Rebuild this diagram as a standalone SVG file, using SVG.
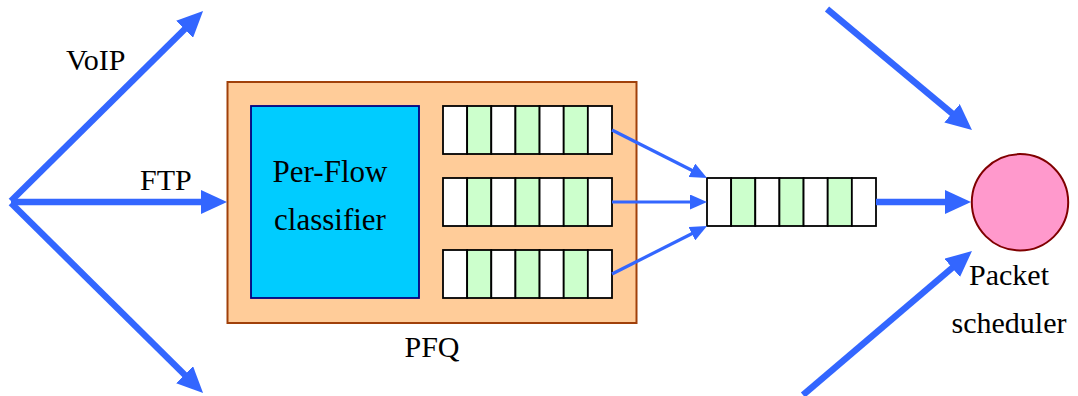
<svg xmlns="http://www.w3.org/2000/svg" width="1078" height="396" viewBox="0 0 1078 396">
  <defs>
    <marker id="bigHead" markerUnits="userSpaceOnUse" markerWidth="26" markerHeight="24" viewBox="0 0 26 24" refX="10" refY="12" orient="auto">
      <path d="M0,0 L26,12 L0,24 Z" fill="#3366FF"/>
    </marker>
    <marker id="smallHead" markerUnits="userSpaceOnUse" markerWidth="17" markerHeight="15" viewBox="0 0 17 15" refX="6" refY="7.5" orient="auto">
      <path d="M0,0 L17,7.5 L0,15 Z" fill="#3366FF"/>
    </marker>
  </defs>
  <rect width="1078" height="396" fill="#FFFFFF"/>

  <g id="pfq">
    <rect x="227.5" y="82" width="409" height="241" fill="#FFCC99" stroke="#A0400A" stroke-width="2"/>
    <text x="432" y="357" text-anchor="middle" font-family="Times New Roman" style="font-family:'Liberation Serif','Times New Roman',serif" font-size="30">PFQ</text>
  </g>

  <g id="classifier">
    <rect x="251" y="106" width="168" height="192" fill="#00CCFF" stroke="#000080" stroke-width="1.8"/>
    <text x="330" y="182" text-anchor="middle" font-family="Times New Roman" style="font-family:'Liberation Serif','Times New Roman',serif" font-size="31">Per-Flow</text>
    <text x="330" y="230" text-anchor="middle" font-family="Times New Roman" style="font-family:'Liberation Serif','Times New Roman',serif" font-size="31">classifier</text>
  </g>

  <g id="queue1" fill="#FFFFFF" stroke="#000000" stroke-width="1.8">
    <rect x="443" y="106" width="24.14" height="48"/>
    <rect x="467.14" y="106" width="24.14" height="48" fill="#CCFFCC"/>
    <rect x="491.29" y="106" width="24.14" height="48"/>
    <rect x="515.43" y="106" width="24.14" height="48" fill="#CCFFCC"/>
    <rect x="539.57" y="106" width="24.14" height="48"/>
    <rect x="563.71" y="106" width="24.14" height="48" fill="#CCFFCC"/>
    <rect x="587.86" y="106" width="24.14" height="48"/>
  </g>
  <g id="queue2" fill="#FFFFFF" stroke="#000000" stroke-width="1.8">
    <rect x="443" y="178" width="24.14" height="48"/>
    <rect x="467.14" y="178" width="24.14" height="48" fill="#CCFFCC"/>
    <rect x="491.29" y="178" width="24.14" height="48"/>
    <rect x="515.43" y="178" width="24.14" height="48" fill="#CCFFCC"/>
    <rect x="539.57" y="178" width="24.14" height="48"/>
    <rect x="563.71" y="178" width="24.14" height="48" fill="#CCFFCC"/>
    <rect x="587.86" y="178" width="24.14" height="48"/>
  </g>
  <g id="queue3" fill="#FFFFFF" stroke="#000000" stroke-width="1.8">
    <rect x="443" y="250" width="24.14" height="48"/>
    <rect x="467.14" y="250" width="24.14" height="48" fill="#CCFFCC"/>
    <rect x="491.29" y="250" width="24.14" height="48"/>
    <rect x="515.43" y="250" width="24.14" height="48" fill="#CCFFCC"/>
    <rect x="539.57" y="250" width="24.14" height="48"/>
    <rect x="563.71" y="250" width="24.14" height="48" fill="#CCFFCC"/>
    <rect x="587.86" y="250" width="24.14" height="48"/>
  </g>

  <g id="outQueue" fill="#FFFFFF" stroke="#000000" stroke-width="1.8">
    <rect x="707" y="178" width="24.14" height="48"/>
    <rect x="731.14" y="178" width="24.14" height="48" fill="#CCFFCC"/>
    <rect x="755.29" y="178" width="24.14" height="48"/>
    <rect x="779.43" y="178" width="24.14" height="48" fill="#CCFFCC"/>
    <rect x="803.57" y="178" width="24.14" height="48"/>
    <rect x="827.71" y="178" width="24.14" height="48" fill="#CCFFCC"/>
    <rect x="851.86" y="178" width="24.14" height="48"/>
  </g>

  <g id="scheduler">
    <circle cx="1020" cy="202.3" r="48.2" fill="#FF99CC" stroke="#800000" stroke-width="2"/>
    <text x="1009" y="285" text-anchor="middle" font-family="Times New Roman" style="font-family:'Liberation Serif','Times New Roman',serif" font-size="30">Packet</text>
    <text x="1009" y="333" text-anchor="middle" font-family="Times New Roman" style="font-family:'Liberation Serif','Times New Roman',serif" font-size="30">scheduler</text>
  </g>

  <g id="labels">
    <text x="66" y="70" font-family="Times New Roman" style="font-family:'Liberation Serif','Times New Roman',serif" font-size="30">VoIP</text>
    <text x="140" y="190" font-family="Times New Roman" style="font-family:'Liberation Serif','Times New Roman',serif" font-size="30">FTP</text>
  </g>

  <g id="connectors" stroke="#3366FF" fill="none">
    <g stroke-width="6.5" marker-end="url(#bigHead)">
      <line x1="11" y1="201" x2="191.7" y2="22.3"/>
      <line x1="11" y1="202" x2="211" y2="202"/>
      <line x1="11" y1="203" x2="191.7" y2="381.7"/>
      <line x1="876" y1="202" x2="955" y2="202"/>
      <line x1="827" y1="9" x2="959.7" y2="119.7"/>
      <line x1="803" y1="395" x2="959.8" y2="261.4"/>
    </g>
    <g stroke-width="3.2" marker-end="url(#smallHead)">
      <line x1="612" y1="130" x2="697.2" y2="173"/>
      <line x1="612" y1="202" x2="696" y2="202"/>
      <line x1="612" y1="274" x2="697.2" y2="231"/>
    </g>
  </g>
</svg>
